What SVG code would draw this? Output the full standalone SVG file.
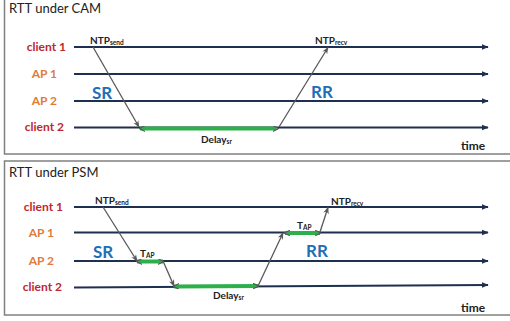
<svg xmlns="http://www.w3.org/2000/svg" width="510" height="321" viewBox="0 0 510 321">
<defs>
<marker id="tl" viewBox="0 0 10 10" refX="9" refY="5" markerWidth="7" markerHeight="7" markerUnits="userSpaceOnUse" orient="auto"><path d="M0,1 L10,5 L0,9 Z" fill="#1f2f4f"/></marker>
<marker id="ga" viewBox="0 0 10 10" refX="9" refY="5" markerWidth="7" markerHeight="7" markerUnits="userSpaceOnUse" orient="auto"><path d="M0,1 L10,5 L0,9 L3,5 Z" fill="#595959"/></marker>
<marker id="gh" viewBox="0 0 10 10" refX="9" refY="5" markerWidth="6" markerHeight="6" markerUnits="userSpaceOnUse" orient="auto-start-reverse"><path d="M0,0 L10,5 L0,10" fill="none" stroke="#595959" stroke-width="2"/></marker>
</defs>
<style>
.panel{fill:#fff;stroke:#808080;stroke-width:1.5}
.title{font-family:Lato,"Liberation Sans",sans-serif;font-size:13px;fill:#222}
.lbl{font-family:Lato,"Liberation Sans",sans-serif;font-size:12px;font-weight:bold;text-anchor:end}
.cl{fill:#c0272d}
.ap{fill:#e07b39}
.tl{stroke:#1f2f4f;stroke-width:2;fill:none;marker-end:url(#tl)}
.msg{stroke:#595959;stroke-width:1.3;fill:none;marker-end:url(#ga)}
.bar{stroke:#2db04b;stroke-width:4;fill:none}
.bh{stroke:#595959;stroke-width:0;fill:none;marker-start:url(#gh);marker-end:url(#gh)}
.big{font-family:Lato,"Liberation Sans",sans-serif;font-size:17px;font-weight:bold;fill:#1f6fb5}
.sm{font-family:Lato,"Liberation Sans",sans-serif;font-size:10px;font-weight:bold;fill:#222}
.sub{font-size:6.5px}
.time{font-family:Lato,"Liberation Sans",sans-serif;font-size:12px;font-weight:bold;fill:#222}
</style>

<g id="panel-cam">
<rect class="panel" x="4.5" y="-1" width="510" height="155"/>
<text class="title" x="9" y="13">RTT under CAM</text>
</g>
<g id="panel-psm">
<rect class="panel" x="4.5" y="161" width="510" height="154"/>
<text class="title" x="9" y="177">RTT under PSM</text>
</g>

<g id="cam-client1"><text class="lbl cl" x="66" y="51">client 1</text><line class="tl" x1="74" y1="47" x2="488" y2="47"/></g>
<g id="cam-ap1"><text class="lbl ap" x="57" y="78">AP 1</text><line class="tl" x1="74" y1="74" x2="488" y2="74"/></g>
<g id="cam-ap2"><text class="lbl ap" x="57" y="105">AP 2</text><line class="tl" x1="74" y1="101" x2="488" y2="101"/></g>
<g id="cam-client2"><text class="lbl cl" x="64" y="131">client 2</text><line class="tl" x1="74" y1="127.5" x2="488" y2="127.5"/></g>

<g id="psm-client1"><text class="lbl cl" x="63" y="211">client 1</text><line class="tl" x1="74" y1="207" x2="488" y2="207"/></g>
<g id="psm-ap1"><text class="lbl ap" x="54" y="237">AP 1</text><line class="tl" x1="74" y1="232.5" x2="488" y2="232.5"/></g>
<g id="psm-ap2"><text class="lbl ap" x="54" y="265">AP 2</text><line class="tl" x1="74" y1="261" x2="488" y2="261"/></g>
<g id="psm-client2"><text class="lbl cl" x="62" y="291">client 2</text><line class="tl" x1="74" y1="287.5" x2="488" y2="285"/></g>

<g id="connectors">
<line class="bar" x1="140" y1="128.5" x2="276" y2="128.5"/>
<line class="bh" x1="140" y1="128.5" x2="278" y2="128.5"/>
<line class="msg" x1="93" y1="47" x2="139" y2="127"/>
<line class="msg" x1="279" y1="127" x2="328" y2="47.5"/>
<line class="bar" x1="137" y1="261.5" x2="163" y2="261.5"/>
<line class="bh" x1="137" y1="261.5" x2="163" y2="261.5"/>
<line class="bar" x1="174" y1="286.5" x2="258" y2="286"/>
<line class="bh" x1="174" y1="286.5" x2="258" y2="286"/>
<line class="bar" x1="285" y1="233" x2="320" y2="233"/>
<line class="bh" x1="285" y1="233" x2="320" y2="233"/>
<line class="msg" x1="103" y1="207" x2="137" y2="261"/>
<line class="msg" x1="163" y1="261" x2="174" y2="286"/>
<line class="msg" x1="258" y1="286" x2="283" y2="233"/>
<line class="msg" x1="320" y1="232" x2="328" y2="207.5"/>
</g>

<g id="cam-labels">
<text class="sm" x="90" y="44">NTP<tspan class="sub" dy="1">send</tspan></text>
<text class="sm" x="315" y="44">NTP<tspan class="sub" dy="1">recv</tspan></text>
<text class="big" x="92" y="99">SR</text>
<text class="big" x="311" y="98">RR</text>
<text class="sm" x="201" y="143">Delay<tspan class="sub" dy="1">sr</tspan></text>
<text class="time" x="461" y="150">time</text>
</g>
<g id="psm-labels">
<text class="sm" x="95" y="204">NTP<tspan class="sub" dy="1">send</tspan></text>
<text class="sm" x="331" y="205">NTP<tspan class="sub" dy="1">recv</tspan></text>
<text class="big" x="93" y="258">SR</text>
<text class="big" x="306" y="257">RR</text>
<text class="sm" x="140" y="257">T<tspan class="sub" dy="1">AP</tspan></text>
<text class="sm" x="297" y="229">T<tspan class="sub" dy="1">AP</tspan></text>
<text class="sm" x="213" y="299">Delay<tspan class="sub" dy="1">sr</tspan></text>
<text class="time" x="461" y="312">time</text>
</g>
</svg>
